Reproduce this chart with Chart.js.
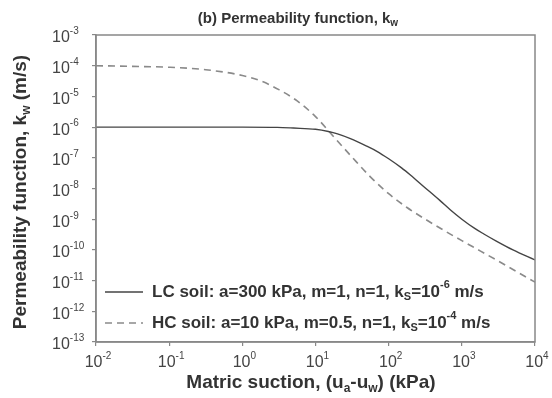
<!DOCTYPE html>
<html>
<head>
<meta charset="utf-8">
<script src="https://cdn.jsdelivr.net/npm/chart.js@4"></script>
<style>
  html, body { margin: 0; padding: 0; background: #fff; }
  canvas { display: block; }
</style>
</head>
<body>
<canvas id="chart" width="552" height="398"></canvas>
<script>
/* ---------- DATA ---------- */
const suctionLC = [0.01, 0.1, 1, 3, 5, 10, 15, 20, 30, 50, 70, 100, 150, 200, 300, 500, 700, 1000, 1500, 2000, 3000, 5000, 10000];
const kLC = [1.0e-6, 1.0e-6, 1.0e-6, 9.8e-7, 9.3e-7, 8.5e-7, 7.2e-7, 6.0e-7, 4.2e-7, 2.4e-7, 1.6e-7, 9.3e-8, 4.7e-8, 2.7e-8, 1.17e-8, 4.1e-9, 2.0e-9, 1.0e-9, 5.0e-10, 3.3e-10, 1.9e-10, 1.0e-10, 4.7e-11];

const suctionHC = [0.01, 0.0316, 0.1, 0.316, 1, 1.78, 3.16, 5.62, 10, 17.8, 31.6, 56.2, 100, 178, 316, 562, 1000, 1778, 3162, 5623, 10000];
const kHC = [1.0e-4, 9.5e-5, 8.9e-5, 7.4e-5, 4.8e-5, 3.2e-5, 1.66e-5, 7.1e-6, 2.2e-6, 4.8e-7, 1.05e-7, 2.4e-8, 6.8e-9, 2.4e-9, 1.0e-9, 4.4e-10, 2.0e-10, 9.3e-11, 4.3e-11, 1.95e-11, 8.9e-12];

const xTicks = [1e-2, 1e-1, 1e0, 1e1, 1e2, 1e3, 1e4];
const yTicks = [1e-3, 1e-4, 1e-5, 1e-6, 1e-7, 1e-8, 1e-9, 1e-10, 1e-11, 1e-12, 1e-13];

// rich-text pieces: [text, 'n' | 'sub' | 'sup']
const titleText = [['(b) Permeability function, k', 'n'], ['w', 'sub']];
const xTitleText = [['Matric suction, (u', 'n'], ['a', 'sub'], ['-u', 'n'], ['w', 'sub'], [') (kPa)', 'n']];
const yTitleText = [['Permeability function, k', 'n'], ['w', 'sub'], [' (m/s)', 'n']];
const legendLC = [['LC soil: a=300 kPa, m=1, n=1, k', 'n'], ['S', 'sub'], ['=10', 'n'], ['-6', 'sup'], [' m/s', 'n']];
const legendHC = [['HC soil: a=10 kPa, m=0.5, n=1, k', 'n'], ['S', 'sub'], ['=10', 'n'], ['-4', 'sup'], [' m/s', 'n']];

const FONT = "Arial, 'Liberation Sans', sans-serif";

/* ---------- RICH TEXT ---------- */
function drawRich(ctx, parts, x, y, size, align, weight = 'bold') {
  const small = Math.round(size * 0.65);
  const fontFor = t => `${weight} ${t === 'n' ? size : small}px ${FONT}`;
  let total = 0;
  parts.forEach(([s, t]) => { ctx.font = fontFor(t); total += ctx.measureText(s).width; });
  let cx = align === 'center' ? x - total / 2 : align === 'right' ? x - total : x;
  ctx.textAlign = 'left';
  ctx.textBaseline = 'middle';
  parts.forEach(([s, t]) => {
    ctx.font = fontFor(t);
    const dy = t === 'sub' ? size * 0.3 : t === 'sup' ? -size * 0.4 : 0;
    ctx.fillText(s, cx, y + dy);
    cx += ctx.measureText(s).width;
  });
}

const powParts = v => [['10', 'n'], [String(Math.round(Math.log10(v))), 'sup']];

const decorations = {
  id: 'decorations',
  afterDraw(chart) {
    const { ctx, chartArea: a } = chart;
    ctx.save();

    // frame
    ctx.strokeStyle = '#888';
    ctx.lineWidth = 1.5;
    ctx.strokeRect(a.left, a.top, a.right - a.left, a.bottom - a.top);

    // tick labels
    ctx.fillStyle = '#444';
    const xs = chart.scales.x, ys = chart.scales.y;
    xs.ticks.forEach(t => drawRich(ctx, powParts(t.value), xs.getPixelForValue(t.value) + 2, a.bottom + 21, 16, 'center', 'normal'));
    ys.ticks.forEach(t => drawRich(ctx, powParts(t.value), 52, ys.getPixelForValue(t.value) + 3, 16, 'left', 'normal'));

    // titles
    ctx.fillStyle = '#333';
    drawRich(ctx, titleText, 298, 19, 15, 'center');
    drawRich(ctx, xTitleText, 311, 383, 19, 'center');

    ctx.save();
    ctx.translate(21, 192);
    ctx.rotate(-Math.PI / 2);
    drawRich(ctx, yTitleText, 0, 0, 19, 'center');
    ctx.restore();

    // legend
    const rows = [[legendLC, 292, chart.data.datasets[0]], [legendHC, 323, chart.data.datasets[1]]];
    rows.forEach(([parts, y, ds]) => {
      ctx.strokeStyle = ds.borderColor;
      ctx.lineWidth = ds.borderWidth;
      ctx.setLineDash(ds.borderDash || []);
      ctx.beginPath();
      ctx.moveTo(105, y);
      ctx.lineTo(143, y);
      ctx.stroke();
      ctx.setLineDash([]);
      ctx.fillStyle = '#333';
      drawRich(ctx, parts, 152, y, 17, 'left');
    });

    ctx.restore();
  }
};

/* ---------- CHART ---------- */
new Chart(document.getElementById('chart'), {
  type: 'line',
  data: {
    datasets: [
      {
        label: 'LC soil',
        data: suctionLC.map((x, i) => ({ x, y: kLC[i] })),
        borderColor: '#444',
        borderWidth: 1.4,
        pointRadius: 0,
        cubicInterpolationMode: 'monotone',
        fill: false
      },
      {
        label: 'HC soil',
        data: suctionHC.map((x, i) => ({ x, y: kHC[i] })),
        borderColor: '#8a8a8a',
        borderWidth: 1.6,
        borderDash: [7, 5],
        pointRadius: 0,
        cubicInterpolationMode: 'monotone',
        fill: false
      }
    ]
  },
  options: {
    responsive: false,
    animation: false,
    layout: { padding: { top: 35, right: 17, left: 0, bottom: 0 } },
    plugins: { legend: { display: false }, tooltip: { enabled: false } },
    scales: {
      x: {
        type: 'logarithmic',
        min: 1e-2,
        max: 1e4,
        afterBuildTicks: s => { s.ticks = xTicks.map(v => ({ value: v })); },
        afterFit: s => { s.height = 56; },
        ticks: { display: false, autoSkip: false },
        grid: { drawOnChartArea: false, tickLength: 4, color: '#888', lineWidth: 1.2 },
        border: { color: '#888', width: 1.5 }
      },
      y: {
        type: 'logarithmic',
        min: 1e-13,
        max: 1e-3,
        afterBuildTicks: s => { s.ticks = yTicks.map(v => ({ value: v })); },
        afterFit: s => { s.width = 96; },
        ticks: { display: false, autoSkip: false },
        grid: { drawOnChartArea: false, tickLength: 4, color: '#888', lineWidth: 1.2 },
        border: { color: '#888', width: 1.5 }
      }
    }
  },
  plugins: [decorations]
});
</script>
</body>
</html>
